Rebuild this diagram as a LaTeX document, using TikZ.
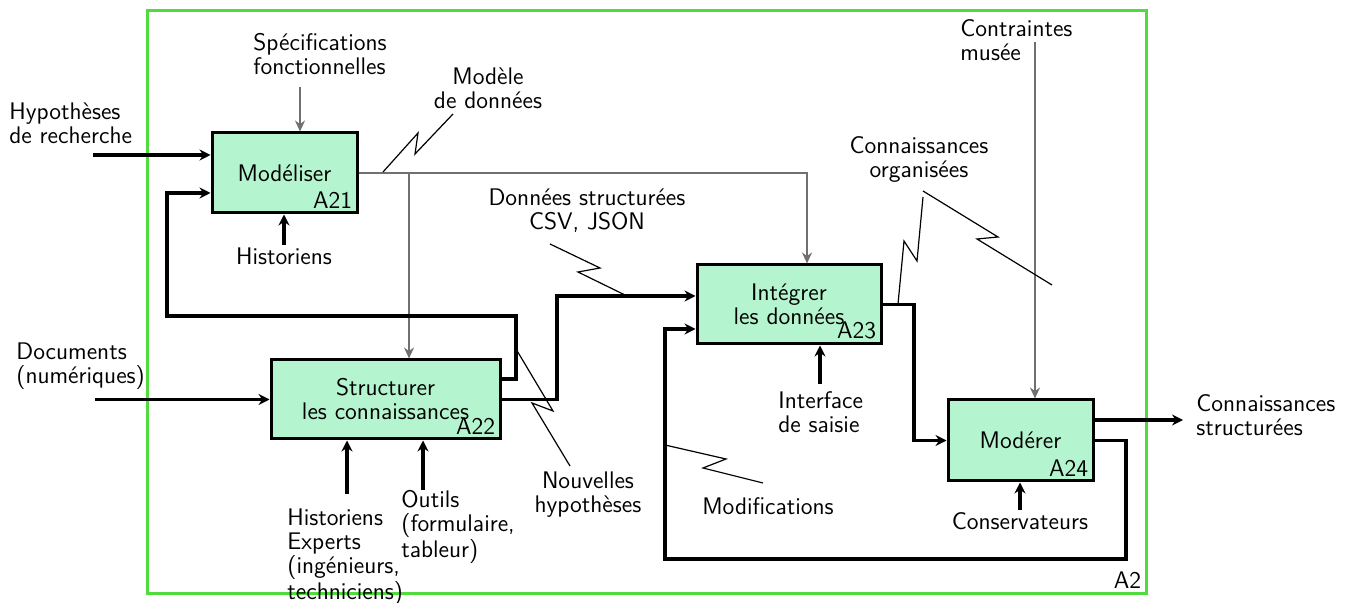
\documentclass[tikz,border=0pt]{standalone}
\usetikzlibrary{calc,arrows.meta}
\definecolor{menthe}{RGB}{180,245,208}
\definecolor{vertcadre}{RGB}{80,220,60}
\definecolor{gris}{RGB}{112,112,112}
\newcommand{\eclair}[4]{
	\draw[eclair] (#1) -- (#2) -- (#3) -- (#4);
}

\begin{document}
\begin{tikzpicture}[x=0.5pt,y=-0.5pt,
	every node/.style={font=\sffamily\fontsize{12}{12}\selectfont, inner sep=1pt},
	code/.style={anchor=south east, inner sep=3pt},
	activite/.style={draw=black, line width=1.5pt, fill=menthe, align=center, inner sep=0pt},
	fleche/.style={line width=1.6pt, -{Stealth[length=5.5pt,width=5.5pt,inset=1.8pt]}},
	grise/.style={draw=gris, line width=1.3pt, -{Stealth[length=5.5pt,width=5pt,inset=1.8pt]}},
	eclair/.style={line width=0.6pt}]
	\useasboundingbox (0,0) rectangle (1354,603);

	% cadre A2
	\node[draw=vertcadre, line width=1.5pt, minimum width=499.5pt, minimum height=291pt,
		label={[code]south east:A2}] (A2) at (646.5,302) {};

	% activites
	\node[activite, minimum width=72.5pt, minimum height=40pt,
		label={[code]south east:A21}] (A21) at (284.5,173) {Modéliser};
	\node[activite, minimum width=114.5pt, minimum height=39.5pt,
		label={[code]south east:A22}] (A22) at (385.5,399.5) {Structurer\\les connaissances};
	\node[activite, minimum width=92pt, minimum height=39.5pt,
		label={[code]south east:A23}] (A23) at (789,304.5) {Intégrer\\les données};
	\node[activite, minimum width=72.5pt, minimum height=40.5pt,
		label={[code]south east:A24}] (A24) at (1020.5,440.5) {Modérer};

	% textes
	\node[align=left, anchor=west] (hyp) at (7,123) {Hypothèses\\de recherche};
	\node[align=left, anchor=west] (spec) at (251,54) {Spécifications\\fonctionnelles};
	\node[align=center] (modele) at (488,88) {Modèle\\de données};
	\node[align=center] (donnees) at (587,211) {Données structurées\\CSV, JSON};
	\node[align=center] (orga) at (919,160) {Connaissances\\organisées};
	\node[align=left, anchor=west] (contr) at (958,40) {Contraintes\\musée};
	\node (hist) at (284,256) {Historiens};
	\node[align=left, anchor=west] (docs) at (14,366) {Documents\\(numériques)};
	\node[align=center] (nouv) at (588,495) {Nouvelles\\hypothèses};
	\node[align=left, anchor=west] (experts) at (285,557) {Historiens\\Experts\\(ingénieurs,\\techniciens)};
	\node[align=left, anchor=west] (outils) at (399,527) {Outils\\(formulaire,\\tableur)};
	\node[align=left, anchor=west] (interf) at (776,412) {Interface\\de saisie};
	\node (modif) at (768,506) {Modifications};
	\node (conserv) at (1020,521) {Conservateurs};
	\node[align=left, anchor=west] (struct) at (1194,415) {Connaissances\\structurées};

	% points libres
	\coordinate (hypin) at (93,155);
	\coordinate (specin) at (300,87);
	\coordinate (docin) at (95,399.5);
	\coordinate (expin) at (347,494);
	\coordinate (outin) at (423,490);
	\coordinate (intin) at (820,384);
	\coordinate (contrin) at (1035,42);
	\coordinate (sortie) at (1183,420);
	\coordinate (modA) at (807,173);
	\coordinate (modB) at (409,173);
	\coordinate (retA) at (516,316);
	\coordinate (retB) at (167,193);
	\coordinate (struA) at (557,296);
	\coordinate (intA) at (914,304.5);
	\coordinate (corA) at (1126,559);
	\coordinate (corB) at (665,329);

	% entrees, controles, mecanismes
	\draw[fleche] (hypin) -- (hypin -| A21.west);
	\draw[grise] (specin) -- (specin |- A21.north);
	\draw[fleche] (hist.north) -- (hist.north |- A21.south);
	\draw[fleche] (docin) -- (A22.west);
	\draw[fleche] (expin) -- (expin |- A22.south);
	\draw[fleche] (outin) -- (outin |- A22.south);
	\draw[fleche] (intin) -- (intin |- A23.south);
	\draw[grise] (contrin) -- (contrin |- A24.north);
	\draw[fleche] (conserv.north) -- (conserv.north |- A24.south);

	% flux entre activites
	\draw[grise] (A21.east) -- (modA) -- (modA |- A23.north);
	\draw[grise] (modB) -- (modB |- A22.north);
	\draw[fleche] ($(A22.east)+(0,-20.5)$) -| (retA) -| (retB) -- (retB -| A21.west);
	\draw[fleche] (A22.east) -| (struA) -- (struA -| A23.west);
	\draw[fleche] (A23.east) -- (intA) |- (A24.west);
	\draw[fleche] (A24.east) -| (corA) -| (corB) -- (corB -| A23.west);
	\draw[fleche] (A24.east |- sortie) -- (sortie);

	% eclairs
	\eclair{383,172}{418,133}{415,154}{453,114}
	\eclair{550,244}{600,268}{578,272}{627,296}
	\eclair{898,304}{904,241}{917,261}{923,197}
	\eclair{923,191}{998,237}{977,239}{1052,285}
	\eclair{516,349}{553,411}{532,403}{570,466}
	\eclair{665,445}{726,459}{703,468}{763,483}
\end{tikzpicture}
\end{document}
